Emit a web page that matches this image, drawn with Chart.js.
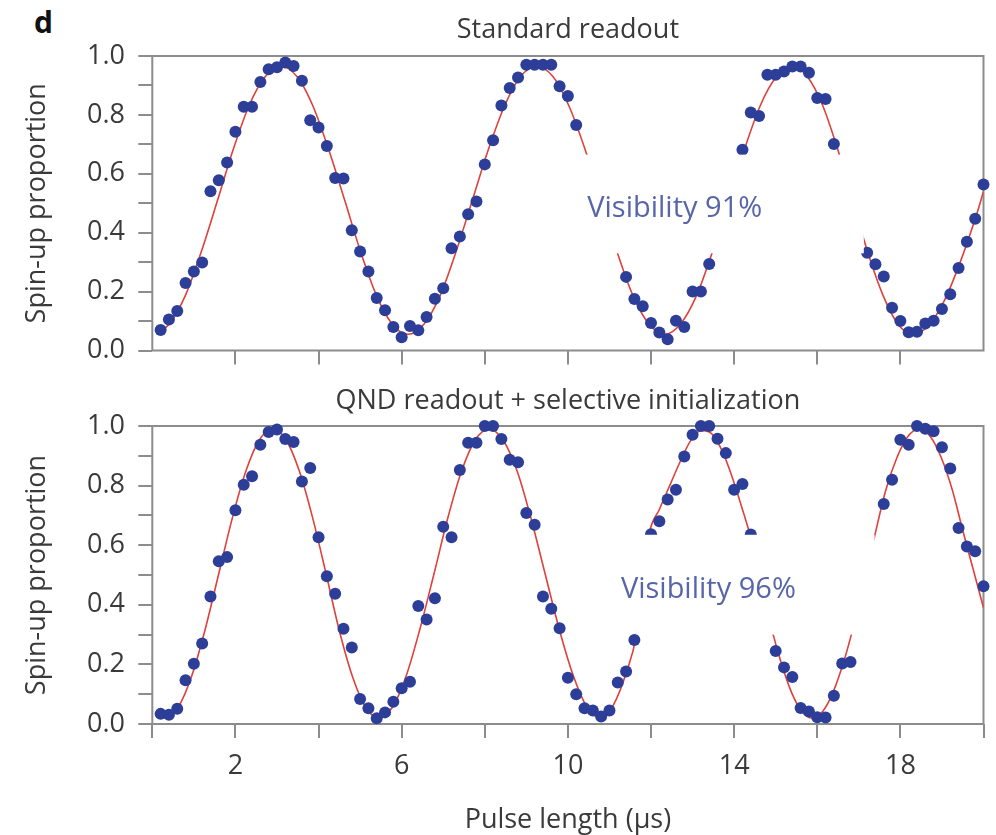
<!DOCTYPE html>
<html>
<head>
<meta charset="utf-8">
<script src="https://cdn.jsdelivr.net/npm/chart.js@4.4.0/dist/chart.umd.min.js"></script>
<style>
  body { margin: 0; background: #fff; width: 996px; height: 835px; position: relative; overflow: hidden; }
  #panelLetter { position: absolute; left: 34px; top: 1px; font: bold 30px "Open Sans", sans-serif; color: #111; }
  .panel { position: absolute; left: 0; width: 996px; }
</style>
</head>
<body>
<div id="panelLetter">d</div>
<div class="panel" style="top:0;height:380px"><canvas id="topChart" width="996" height="380"></canvas></div>
<div class="panel" style="top:380px;height:455px"><canvas id="bottomChart" width="996" height="455"></canvas></div>
<script>
// measured points, standard readout (x in µs)
const pulseTop = [
  0.2, 0.4, 0.6, 0.8, 1.0, 1.2, 1.4, 1.6, 1.8, 2.0, 2.2, 2.4, 2.6, 2.8, 3.0, 3.2, 3.4, 3.6, 3.8, 4.0,
  4.2, 4.4, 4.6, 4.8, 5.0, 5.2, 5.4, 5.6, 5.8, 6.0, 6.2, 6.4, 6.6, 6.8, 7.0, 7.2, 7.4, 7.6, 7.8, 8.0,
  8.2, 8.4, 8.6, 8.8, 9.0, 9.2, 9.4, 9.6, 9.8, 10.0, 10.2,
  11.4, 11.6, 11.8, 12.0, 12.2, 12.4, 12.6, 12.8, 13.0, 13.2, 13.4,
  14.2, 14.4, 14.6, 14.8, 15.0, 15.2, 15.4, 15.6, 15.8, 16.0, 16.2, 16.4,
  17.2, 17.4, 17.6, 17.8, 18.0, 18.2, 18.4, 18.6, 18.8, 19.0, 19.2, 19.4, 19.6, 19.8, 20.0
];
const spinUpTop = [
  0.07, 0.105, 0.134, 0.229, 0.268, 0.299, 0.541, 0.578, 0.638, 0.743, 0.828, 0.828, 0.912, 0.955, 0.962, 0.978, 0.966, 0.916, 0.782, 0.757,
  0.694, 0.586, 0.584, 0.408, 0.336, 0.268, 0.178, 0.137, 0.08, 0.045, 0.083, 0.069, 0.114, 0.176, 0.211, 0.347, 0.387, 0.463, 0.506, 0.632,
  0.714, 0.832, 0.891, 0.927, 0.97, 0.97, 0.97, 0.97, 0.897, 0.864, 0.766,
  0.25, 0.175, 0.15, 0.093, 0.061, 0.038, 0.101, 0.08, 0.2, 0.2, 0.294,
  0.682, 0.808, 0.796, 0.936, 0.936, 0.947, 0.964, 0.964, 0.943, 0.857, 0.854, 0.701,
  0.332, 0.293, 0.251, 0.145, 0.1, 0.062, 0.064, 0.092, 0.101, 0.141, 0.191, 0.28, 0.369, 0.447, 0.564
];
// fitted curve
const fitTopX = [
  0.1, 0.41, 0.8, 1.18, 1.57, 1.95, 2.33, 2.72, 3.1, 3.48, 3.86, 4.24, 4.63, 5.01, 5.39, 5.77, 6.15,
  6.54, 6.93, 7.31, 7.7, 8.09, 8.48, 8.86, 9.25, 9.64, 10.02, 10.41, 10.79, 11.18, 11.56, 11.95, 12.33,
  12.71, 13.1, 13.48, 13.87, 14.25, 14.63, 15.02, 15.4, 15.76, 16.13, 16.49, 16.85, 17.21, 17.58, 17.94, 18.3,
  18.68, 19.06, 19.44, 19.83, 20.0
];
const fitTopY = [
  0.057, 0.09, 0.188, 0.336, 0.51, 0.684, 0.832, 0.93, 0.965, 0.93, 0.832, 0.684, 0.51, 0.336, 0.188, 0.09, 0.055,
  0.09, 0.188, 0.336, 0.51, 0.684, 0.832, 0.93, 0.965, 0.93, 0.832, 0.684, 0.51, 0.336, 0.188, 0.09, 0.055,
  0.09, 0.188, 0.336, 0.51, 0.684, 0.832, 0.93, 0.965, 0.93, 0.832, 0.684, 0.51, 0.336, 0.188, 0.09, 0.055,
  0.085, 0.17, 0.3, 0.46, 0.54
];

// measured points, QND readout + selective initialization
const pulseBottom = [
  0.2, 0.4, 0.6, 0.8, 1.0, 1.2, 1.4, 1.6, 1.8, 2.0, 2.2, 2.4, 2.6, 2.8, 3.0, 3.2, 3.4, 3.6, 3.8, 4.0,
  4.2, 4.4, 4.6, 4.8, 5.0, 5.2, 5.4, 5.6, 5.8, 6.0, 6.2, 6.4, 6.6, 6.8, 7.0, 7.2, 7.4, 7.6, 7.8, 8.0,
  8.2, 8.4, 8.6, 8.8, 9.0, 9.2, 9.4, 9.6, 9.8, 10.0, 10.2, 10.4, 10.6, 10.8, 11.0, 11.2, 11.4, 11.6,
  12.0, 12.2, 12.4, 12.6, 12.8, 13.0, 13.2, 13.4, 13.6, 13.8, 14.0, 14.2, 14.4,
  15.0, 15.2, 15.4, 15.6, 15.8, 16.0, 16.2, 16.4, 16.6, 16.8,
  17.6, 17.8, 18.0, 18.2, 18.4, 18.6, 18.8, 19.0, 19.2, 19.4, 19.6, 19.8, 20.0
];
const spinUpBottom = [
  0.034, 0.031, 0.051, 0.147, 0.202, 0.27, 0.428, 0.546, 0.56, 0.717, 0.803, 0.831, 0.937, 0.98, 0.988, 0.956, 0.946, 0.814, 0.859, 0.627,
  0.496, 0.437, 0.32, 0.257, 0.084, 0.053, 0.019, 0.039, 0.075, 0.12, 0.142, 0.396, 0.351, 0.422, 0.662, 0.627, 0.852, 0.944, 0.944, 1.0,
  1.0, 0.956, 0.887, 0.878, 0.708, 0.669, 0.428, 0.387, 0.321, 0.155, 0.1, 0.053, 0.045, 0.025, 0.045, 0.139, 0.176, 0.282,
  0.637, 0.68, 0.753, 0.786, 0.898, 0.971, 1.0, 1.0, 0.957, 0.909, 0.786, 0.805, 0.636,
  0.245, 0.19, 0.158, 0.054, 0.042, 0.023, 0.022, 0.095, 0.203, 0.208,
  0.738, 0.82, 0.954, 0.937, 1.0, 0.991, 0.982, 0.929, 0.857, 0.658, 0.596, 0.58, 0.462
];
const fitBottomX = [
  0.1, 0.3, 0.625, 0.95, 1.275, 1.6, 1.925, 2.25, 2.575, 2.9, 3.22, 3.54, 3.86, 4.18, 4.49, 4.81, 5.13, 5.45,
  5.78, 6.11, 6.44, 6.78, 7.11, 7.44, 7.77, 8.1, 8.44, 8.78, 9.11, 9.45, 9.79, 10.13, 10.46, 10.8,
  11.1, 11.4, 11.65, 11.8, 11.95, 12.2, 12.45, 12.7, 12.95, 13.2, 13.45, 13.7, 13.95, 14.2, 14.38, 14.65,
  14.94, 15.13, 15.38, 15.62, 15.88, 16.14, 16.38, 16.63, 16.82, 17.1, 17.38, 17.65, 17.92, 18.18, 18.45,
  18.72, 18.98, 19.25, 19.5, 19.75, 20.0
];
const fitBottomY = [
  0.024, 0.02, 0.057, 0.162, 0.319, 0.505, 0.691, 0.848, 0.953, 0.99, 0.953, 0.848, 0.691, 0.505, 0.319, 0.162, 0.057, 0.02,
  0.057, 0.162, 0.319, 0.505, 0.691, 0.848, 0.953, 0.99, 0.953, 0.848, 0.691, 0.505, 0.319, 0.162, 0.057, 0.02,
  0.065, 0.17, 0.3, 0.47, 0.635, 0.72, 0.8, 0.88, 0.95, 0.985, 0.975, 0.92, 0.83, 0.72, 0.635, 0.47,
  0.3, 0.206, 0.106, 0.044, 0.02, 0.044, 0.106, 0.206, 0.3, 0.46, 0.63, 0.785, 0.895, 0.965, 0.99,
  0.965, 0.895, 0.785, 0.65, 0.52, 0.39
];

const xTickLabels = [2, 6, 10, 14, 18];

const textColor = '#3a3a3a';
const frameColor = '#8c8c8c';
const dotColor = '#2c3e98';
const fitColor = '#e0403a';
const fontSize = 27;

Chart.defaults.font.family = '"Open Sans", sans-serif';
Chart.defaults.color = textColor;

const pairs = (xs, ys) => xs.map((x, i) => ({ x: x, y: ys[i] }));

// box round the chart area
const framePlugin = {
  id: 'frame',
  beforeDatasetsDraw(chart) {
    const { ctx, chartArea: a } = chart;
    ctx.save();
    ctx.strokeStyle = frameColor;
    ctx.lineWidth = 2;
    ctx.strokeRect(a.left, a.top, a.right - a.left, a.bottom - a.top);
    ctx.restore();
  }
};

// white label box with the visibility text, placed in data units
const visibilityPlugin = {
  id: 'visibility',
  afterDatasetsDraw(chart, args, opts) {
    const { ctx } = chart;
    const xs = chart.scales.x, ys = chart.scales.y;
    const l = xs.getPixelForValue(opts.box[0]), r = xs.getPixelForValue(opts.box[1]);
    const b = ys.getPixelForValue(opts.box[2]), t = ys.getPixelForValue(opts.box[3]);
    ctx.save();
    ctx.fillStyle = '#ffffff';
    ctx.fillRect(l, t, r - l, b - t);
    ctx.font = '29px "Open Sans", sans-serif';
    ctx.fillStyle = '#5866a8';
    ctx.textAlign = 'center';
    ctx.textBaseline = 'middle';
    ctx.fillText(opts.text, xs.getPixelForValue(opts.at[0]), ys.getPixelForValue(opts.at[1]));
    ctx.restore();
  }
};

function makePanel(id, p) {
  return new Chart(document.getElementById(id), {
    type: 'scatter',
    data: {
      datasets: [
        {
          label: 'fit',
          data: pairs(p.fitX, p.fitY),
          showLine: true,
          borderColor: fitColor,
          borderWidth: 1.6,
          pointRadius: 0,
          cubicInterpolationMode: 'monotone',
          order: 1
        },
        {
          label: 'data',
          data: pairs(p.pulse, p.values),
          backgroundColor: dotColor,
          borderWidth: 0,
          pointRadius: 6,
          clip: false,
          order: 0
        }
      ]
    },
    options: {
      responsive: false,
      animation: false,
      devicePixelRatio: 1,
      layout: { padding: { left: 0, right: 10.3, top: 0, bottom: 0 } },
      plugins: {
        legend: { display: false },
        tooltip: { enabled: false },
        title: {
          display: true,
          fullSize: false,
          text: p.title,
          color: textColor,
          font: { size: fontSize, weight: 'normal' },
          padding: p.titlePad
        },
        visibility: { box: p.box, text: p.label, at: p.labelAt }
      },
      scales: {
        x: {
          type: 'linear',
          min: 0,
          max: 20,
          afterFit(s) { s.height = p.xHeight; },
          border: { display: false },
          grid: {
            drawOnChartArea: false,
            tickLength: 14,
            lineWidth: 2,
            color: frameColor,
            tickColor: c => (p.edgeTicks || (c.tick && c.tick.value > 0 && c.tick.value < 20)) ? frameColor : 'rgba(0,0,0,0)'
          },
          ticks: {
            stepSize: 2,
            autoSkip: false,
            maxRotation: 0,
            padding: 12.5,
            color: textColor,
            font: { size: fontSize },
            callback: v => (p.xLabels && xTickLabels.includes(v)) ? String(v) : ''
          },
          title: {
            display: p.xLabels,
            text: 'Pulse length (μs)',
            color: textColor,
            font: { size: fontSize },
            padding: { top: 0, bottom: -2 }
          }
        },
        y: {
          min: 0,
          max: 1,
          afterFit(s) { s.width = 152.3; },
          border: { display: false },
          grid: { drawOnChartArea: false, tickLength: 14, lineWidth: 2, color: frameColor },
          ticks: {
            stepSize: 0.1,
            autoSkip: false,
            padding: 13.3,
            color: textColor,
            font: { size: fontSize },
            callback: v => (Math.round(v * 10) % 2 === 0) ? v.toFixed(1) : ''
          },
          title: {
            display: true,
            text: 'Spin-up proportion',
            color: textColor,
            font: { size: fontSize },
            padding: { top: 20.8, bottom: 0 }
          }
        }
      }
    },
    plugins: [framePlugin, visibilityPlugin]
  });
}

makePanel('topChart', {
  title: 'Standard readout',
  titlePad: { top: 14.3, bottom: 9.3 },
  pulse: pulseTop, values: spinUpTop,
  fitX: fitTopX, fitY: fitTopY,
  xHeight: 26, xLabels: false, edgeTicks: false,
  box: [10.42, 17.12, 0.33, 0.665],
  label: 'Visibility 91%', labelAt: [12.57, 0.481]
});

makePanel('bottomChart', {
  title: 'QND readout + selective initialization',
  titlePad: { top: 4.8, bottom: 8.8 },
  pulse: pulseBottom, values: spinUpBottom,
  fitX: fitBottomX, fitY: fitBottomY,
  xHeight: 111, xLabels: true, edgeTicks: true,
  box: [11.64, 17.38, 0.3, 0.635],
  label: 'Visibility 96%', labelAt: [13.38, 0.452]
});
</script>
</body>
</html>
